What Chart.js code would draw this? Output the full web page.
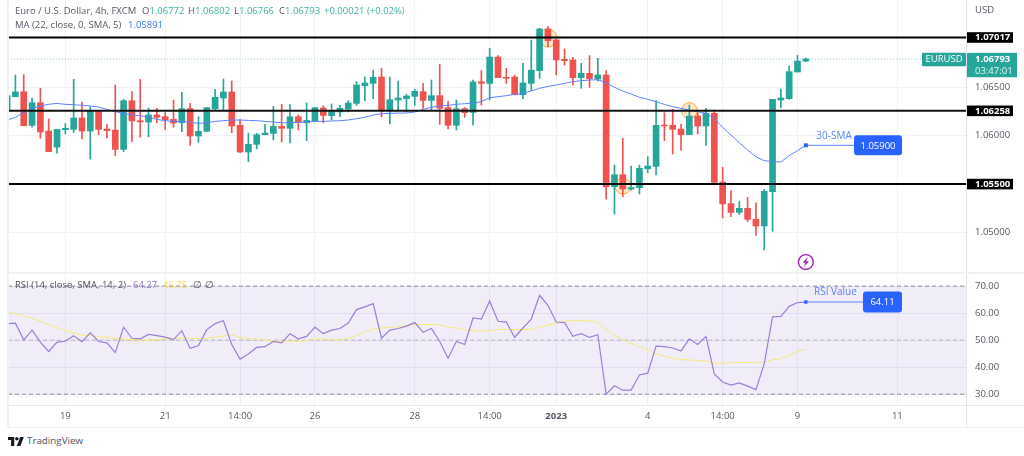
<!DOCTYPE html>
<html><head><meta charset="utf-8">
<script src="https://cdn.jsdelivr.net/npm/chart.js@4"></script>
<style>
html,body{margin:0;padding:0;background:#fff;overflow:hidden}
body{width:1024px;height:456px;position:relative;font-family:"Open Sans",sans-serif}
canvas{position:absolute;left:0}
.t{position:absolute;white-space:pre;font-size:9.5px;line-height:12px;color:#555863;z-index:5}
.r{position:absolute;z-index:4}
</style></head><body>
<canvas id="main" width="1024" height="272" style="top:0"></canvas>
<canvas id="osc" width="1024" height="156" style="top:272px"></canvas>

<div class="r" style="left:7px;top:0;width:1.5px;height:428px;background:#f0f2f8"></div>
<div class="r" style="left:966px;top:0;width:1px;height:428px;background:#e0e3eb"></div>
<div class="r" style="left:7px;top:271.5px;width:1017px;height:2px;background:#f0f2f8"></div>
<div class="r" style="left:8px;top:405px;width:1016px;height:1px;background:#e6e8ef"></div>
<div class="r" style="left:7px;top:426.5px;width:1017px;height:1.5px;background:#f0f2f8"></div>

<div class="t" style="left:15px;top:5px">Euro / U.S. Dollar, 4h, FXCM</div>
<div class="t" style="left:142px;top:5px">O<span style="color:#40b0a5">1.06772</span></div>
<div class="t" style="left:188px;top:5px">H<span style="color:#40b0a5">1.06802</span></div>
<div class="t" style="left:234px;top:5px">L<span style="color:#40b0a5">1.06766</span></div>
<div class="t" style="left:279px;top:5px">C<span style="color:#40b0a5">1.06793</span></div>
<div class="t" style="left:324px;top:5px;color:#40b0a5">+0.00021 (+0.02%)</div>
<div class="t" style="left:15px;top:19px">MA (22, close, 0, SMA, 5)</div>
<div class="t" style="left:128px;top:19px;color:#3f6fff">1.05891</div>
<div class="t" style="left:975px;top:4px">USD</div>
<div class="t" style="left:15px;top:279px">RSI (14, close, SMA, 14, 2)</div>
<div class="t" style="left:133px;top:279px;color:#9075cc">64.27</div>
<div class="t" style="left:163px;top:279px;color:#f5d94e">46.75</div>
<div class="t" style="left:193px;top:279px">∅</div>
<div class="t" style="left:205px;top:279px">∅</div>
<svg class="r" style="left:8px;top:436px" width="16" height="10" viewBox="0 0 36 22"><path fill="#131722" d="M14 22H7V9H0V2h14v20zM28 22h-8l7.5-20h8L28 22z"/><circle fill="#131722" cx="20" cy="6" r="4"/></svg>
<div class="t" style="left:27px;top:435px;font-size:9.8px;color:#50535e">TradingView</div>

<script>
// ---- price data (4h candles) ----
const opens=[1.06255,1.06403,1.06455,1.06107,1.06341,1.06048,1.05882,1.06062,1.06065,1.06183,
1.06048,1.06252,1.06069,1.06058,1.05858,1.06362,1.06155,1.06141,1.06214,1.06196,
1.06169,1.06134,1.06279,1.05996,1.06045,1.06279,1.06390,1.06452,1.06107,1.05831,
1.05910,1.06010,1.06024,1.06096,1.06076,1.06196,1.06134,1.06155,1.06286,1.06207,
1.06245,1.06276,1.06334,1.06517,1.06541,1.06607,1.06255,1.06369,1.06383,1.06407,
1.06455,1.06365,1.06414,1.06290,1.06107,1.06279,1.06241,1.06559,1.06541,1.06814,
1.06604,1.06607,1.06424,1.06541,1.06673,1.07104,1.06990,1.06790,1.06783,1.06600,
1.06645,1.06586,1.06628,1.05472,1.05596,1.05448,1.05462,1.05658,1.05682,1.06110,
1.06107,1.06069,1.06010,1.06203,1.06100,1.06231,1.05520,1.05296,1.05206,1.05248,
1.05134,1.05065,1.05420,1.06369,1.06383,1.06659,1.06772];
const highs=[1.06414,1.06628,1.06631,1.06390,1.06490,1.06172,1.06065,1.06127,1.06583,1.06348,
1.06300,1.06252,1.06117,1.06524,1.06376,1.06455,1.06583,1.06286,1.06283,1.06241,
1.06369,1.06448,1.06334,1.06196,1.06293,1.06479,1.06586,1.06566,1.06169,1.06027,
1.06024,1.06117,1.06303,1.06324,1.06321,1.06214,1.06338,1.06290,1.06310,1.06328,
1.06314,1.06362,1.06559,1.06610,1.06679,1.06697,1.06607,1.06566,1.06428,1.06479,
1.06541,1.06576,1.06738,1.06352,1.06369,1.06290,1.06576,1.06673,1.06904,1.06828,
1.06697,1.06628,1.06748,1.06990,1.07111,1.07128,1.06997,1.06897,1.06811,1.06748,
1.06828,1.06800,1.06673,1.05696,1.05972,1.05686,1.05696,1.05782,1.06362,1.06238,
1.06272,1.06121,1.06317,1.06238,1.06283,1.06265,1.05672,1.05431,1.05320,1.05362,
1.05306,1.05444,1.06376,1.06483,1.06721,1.06831,1.06802];
const lows=[1.06255,1.06403,1.06103,1.06089,1.05972,1.05834,1.05820,1.06017,1.06034,1.05965,
1.05758,1.06010,1.05976,1.05793,1.05834,1.05938,1.05983,1.05989,1.06134,1.06065,
1.06086,1.06041,1.05900,1.05931,1.06045,1.06259,1.06259,1.06031,1.05824,1.05731,
1.05862,1.06010,1.05955,1.05934,1.05924,1.06058,1.05948,1.06152,1.06134,1.06162,
1.06196,1.06245,1.06314,1.06362,1.06383,1.06196,1.06121,1.06259,1.06245,1.06314,
1.06283,1.06265,1.06117,1.06069,1.06058,1.06190,1.06110,1.06317,1.06369,1.06600,
1.06541,1.06421,1.06383,1.06466,1.06593,1.06921,1.06628,1.06731,1.06524,1.06490,
1.06500,1.06566,1.05344,1.05189,1.05368,1.05437,1.05396,1.05617,1.05593,1.05948,
1.05810,1.05851,1.06010,1.06017,1.05900,1.05517,1.05148,1.05161,1.05182,1.05110,
1.04968,1.04816,1.05010,1.06290,1.06376,1.06659,1.06766];
const closes=[1.06414,1.06452,1.06103,1.06341,1.06038,1.05834,1.06065,1.06076,1.06183,1.06048,
1.06252,1.06065,1.06052,1.05858,1.06362,1.06152,1.06141,1.06214,1.06190,1.06165,
1.06131,1.06279,1.05996,1.06045,1.06290,1.06397,1.06452,1.06100,1.05831,1.05910,
1.06010,1.06027,1.06096,1.06076,1.06196,1.06134,1.06158,1.06290,1.06210,1.06262,
1.06283,1.06338,1.06524,1.06545,1.06604,1.06262,1.06372,1.06390,1.06410,1.06459,
1.06365,1.06414,1.06283,1.06107,1.06279,1.06238,1.06555,1.06541,1.06814,1.06600,
1.06593,1.06424,1.06545,1.06679,1.07104,1.06983,1.06783,1.06776,1.06600,1.06645,
1.06590,1.06628,1.05472,1.05596,1.05448,1.05462,1.05662,1.05686,1.06107,1.06100,
1.06065,1.06010,1.06203,1.06100,1.06231,1.05517,1.05293,1.05206,1.05248,1.05134,
1.05065,1.05424,1.06376,1.06390,1.06662,1.06772,1.06793];
const maValues=[1.06162,1.06190,1.06238,1.06283,1.06307,1.06324,1.06334,1.06324,1.06321,1.06314,
1.06307,1.06296,1.06272,1.06248,1.06231,1.06214,1.06207,1.06190,1.06169,1.06155,
1.06148,1.06148,1.06141,1.06127,1.06134,1.06148,1.06155,1.06162,1.06162,1.06158,
1.06155,1.06148,1.06141,1.06134,1.06134,1.06138,1.06141,1.06148,1.06148,1.06152,
1.06155,1.06162,1.06176,1.06190,1.06214,1.06227,1.06231,1.06234,1.06234,1.06245,
1.06272,1.06293,1.06307,1.06314,1.06324,1.06331,1.06334,1.06352,1.06393,1.06403,
1.06414,1.06428,1.06438,1.06462,1.06490,1.06510,1.06524,1.06541,1.06559,1.06569,
1.06576,1.06579,1.06548,1.06500,1.06462,1.06431,1.06397,1.06376,1.06352,1.06324,
1.06300,1.06283,1.06265,1.06248,1.06231,1.06179,1.06086,1.06007,1.05927,1.05851,
1.05782,1.05741,1.05731,1.05727,1.05793,1.05845,1.05900];
const rsiValues=[56.1,56.3,50.1,53.7,49.3,45.8,49.3,49.6,51.6,49.4,52.7,49.5,49.0,45.4,54.8,50.7,50.5,52.1,51.7,51.1,
50.2,53.5,47.0,48.0,53.9,56.1,57.2,48.4,43.0,44.9,47.3,47.6,49.5,49.0,52.4,50.5,51.4,54.8,52.4,53.7,54.3,
56.3,61.3,62.3,63.5,50.7,53.7,54.3,55.2,56.5,52.9,54.3,49.5,43.3,49.5,48.4,58.2,57.8,64.5,57.0,56.7,
51.0,54.5,57.8,66.6,62.9,56.7,56.5,51.4,52.4,51.0,52.0,30.0,33.1,31.5,31.5,37.1,37.8,47.8,47.6,47.1,46.0,
50.5,48.4,51.4,37.5,34.5,33.4,34.2,33.0,31.7,41.2,58.6,58.8,62.5,63.9,64.1];
const rsiSma=[60.4,59.8,58.9,58.2,57.0,55.7,54.6,53.5,52.6,51.9,51.7,51.2,51.1,50.6,50.4,50.2,50.1,49.9,50.2,50.5,
50.5,50.9,50.6,50.6,50.6,51.1,51.6,52.0,50.9,50.5,50.4,50.1,49.7,49.6,49.6,49.6,49.9,50.4,50.4,50.1,50.0,
50.7,51.7,53.0,54.1,54.5,54.8,55.0,55.3,55.8,55.8,55.8,55.7,54.8,54.5,53.9,53.5,53.4,53.4,53.9,54.0,
53.9,53.9,54.0,54.8,55.5,56.3,57.0,57.2,57.3,57.0,56.5,53.9,51.7,50.2,48.9,47.6,46.4,45.0,44.0,43.4,42.8,
42.7,42.4,42.3,41.3,41.6,41.6,41.8,41.8,41.6,41.8,42.7,43.2,44.4,45.8,46.6];
// ---- levels, ticks, labels ----
const levels=[1.07017,1.06258,1.055];
const lastPrice=1.06793;
const smaCallout=1.059;
const rsiCallout=64.11;
const priceTicks=[1.05,1.06,1.065];
const rsiTicks=[30,40,50,60,70];
const rsiDashed=[30,50,70];
const timeTickIdx=[7,19,28,37,49,58,66,77,86,95,107];
const timeTickLabels=['19','21','14:00','26','28','14:00','2023','4','14:00','9','11'];
const marks=[[65,1.07011,9],[82,1.06259,8],[74,1.05479,8]];

const FONT='"Open Sans",sans-serif';
const X_MIN=0.108,X_MAX=115.25;
const UP='#26a69a',DOWN='#ef5350';
const TICK='#555863';
const colors=opens.map((o,i)=>closes[i]>=o?UP:DOWN);
const idx=opens.map((_,i)=>i);
const xy=(arr)=>arr.map((v,i)=>({x:i,y:v}));
const hline=(v)=>[{x:X_MIN,y:v},{x:X_MAX,y:v}];
const noPad=(s)=>{s.paddingTop=s.paddingBottom=s.paddingLeft=s.paddingRight=0;};

function roundBox(c,x,y,w,h,r,fill){c.fillStyle=fill;c.beginPath();c.roundRect(x,y,w,h,r);c.fill();}
function label(c,txt,x,y,col,font,align){c.fillStyle=col;c.font=font;c.textAlign=align||'left';c.textBaseline='middle';c.fillText(txt,x,y);}

const xScaleBase=(labelsOn)=>({
  type:'linear',min:X_MIN,max:X_MAX,offset:false,
  grid:{color:'#f0f2f8',drawTicks:false,offset:false},border:{display:false},
  afterBuildTicks(s){s.ticks=timeTickIdx.map(v=>({value:v}));},
  afterFit(s){noPad(s);s.height=labelsOn?22:0;},
  ticks:labelsOn?{display:true,autoSkip:false,maxRotation:0,padding:5,color:TICK,
    font:(c)=>({family:FONT,size:9.5,weight:c.tick&&c.tick.label==='2023'?'bold':'normal'}),
    callback:(v)=>timeTickLabels[timeTickIdx.indexOf(v)]||''}:{display:false}
});

const mainPlugin={id:'mainMarks',
  beforeDatasetsDraw(ch){
    const c=ch.ctx,x=ch.scales.x,y=ch.scales.y;
    c.save();
    for(const [i,v,r] of marks){
      c.beginPath();c.arc(x.getPixelForValue(i),y.getPixelForValue(v),r,0,Math.PI*2);
      c.fillStyle='rgba(255,152,0,.22)';c.fill();c.strokeStyle='rgba(255,152,0,.8)';c.lineWidth=1;c.stroke();
    }
    c.restore();
  },
  afterDraw(ch){
    const c=ch.ctx,x=ch.scales.x,y=ch.scales.y,ax=ch.chartArea.right,f='bold 9.5px '+FONT,f2='9.5px '+FONT;
    c.save();
    for(const v of levels){
      const p=y.getPixelForValue(v);
      c.fillStyle='#000';c.fillRect(ax,p-5.2,47,10.6);
      label(c,v.toFixed(5),ax+9,p+.3,'#fff',f);
    }
    const lp=y.getPixelForValue(lastPrice);
    roundBox(c,ax-44,lp-6.2,44,13.4,1,UP);
    label(c,'EURUSD',ax-22,lp+.4,'#fff',f2,'center');
    c.fillStyle=UP;c.fillRect(ax,lp-6.2,51,24.4);
    label(c,lastPrice.toFixed(5),ax+9,lp+.6,'#fff',f);
    label(c,'03:47:01',ax+9,lp+11.8,'#e6f5f3',f2);
    // 30-SMA callout
    const sp=y.getPixelForValue(smaCallout),sx=x.getPixelForValue(96);
    c.fillStyle='#2962ff';c.fillRect(sx-2,sp-2,4,4);
    label(c,'30-SMA',sx+10.5,sp-9.5,'#5a82ff',"10px "+FONT);
    roundBox(c,854,sp-10,48,20,3,'#2962ff');
    label(c,smaCallout.toFixed(5),878,sp+.5,'#fff',f2,'center');
    // alert icon
    const ix=x.getPixelForValue(96),iy=y.getPixelForValue(1.04692);
    c.beginPath();c.arc(ix,iy,7.4,0,Math.PI*2);c.strokeStyle='#9c27b0';c.lineWidth=1.4;c.stroke();
    c.fillStyle='#9c27b0';c.beginPath();
    c.moveTo(ix+2,iy-5);c.lineTo(ix-3.2,iy+.8);c.lineTo(ix-.4,iy+.8);c.lineTo(ix-2,iy+5);c.lineTo(ix+3.2,iy-.8);c.lineTo(ix+.4,iy-.8);c.closePath();c.fill();
    c.restore();
  }
};

new Chart(document.getElementById('main'),{
  data:{datasets:[
    {type:'line',data:hline(levels[0]),borderColor:'#000',borderWidth:2,pointRadius:0,order:0},
    {type:'line',data:hline(levels[1]),borderColor:'#111',borderWidth:2,pointRadius:0,order:0},
    {type:'line',data:hline(levels[2]),borderColor:'#000',borderWidth:2,pointRadius:0,order:0},
    {type:'line',data:[{x:96,y:smaCallout},{x:101.9,y:smaCallout}],borderColor:'#5d82ff',borderWidth:1,pointRadius:0,order:1},
    {type:'line',data:xy(maValues),borderColor:'#5d82ff',borderWidth:1,pointRadius:0,order:1},
    {type:'bar',data:idx.map(i=>({x:i,y:[opens[i],closes[i]]})),backgroundColor:colors,barThickness:6,grouped:false,borderWidth:0,order:2},
    {type:'bar',data:idx.map(i=>({x:i,y:[lows[i],highs[i]]})),backgroundColor:colors,barThickness:1,grouped:false,borderWidth:0,order:3},
    {type:'line',data:hline(lastPrice),borderColor:'#8fd3cc',borderWidth:1,borderDash:[1,2],pointRadius:0,order:4}
  ]},
  options:{responsive:false,animation:false,events:[],
    layout:{padding:{left:8,right:0,top:0,bottom:0}},
    plugins:{legend:{display:false},tooltip:{enabled:false}},
    scales:{
      x:xScaleBase(false),
      y:{type:'linear',position:'right',min:1.04589,max:1.07404,beginAtZero:false,
        grid:{color:'#f0f2f8',drawTicks:false},border:{display:false},
        afterBuildTicks(s){s.ticks=priceTicks.map(v=>({value:v}));},
        afterFit(s){noPad(s);s.width=58;},
        ticks:{padding:9,color:TICK,font:{family:FONT,size:9.5},callback:(v)=>Number(v).toFixed(5)}}
    }
  },plugins:[mainPlugin]
});

const oscPlugin={id:'oscMarks',
  beforeDatasetsDraw(ch){
    const c=ch.ctx,y=ch.scales.y,a=ch.chartArea,t=y.getPixelForValue(70),b=y.getPixelForValue(30);
    c.save();c.fillStyle='rgba(126,87,194,.11)';c.fillRect(a.left,t,a.right-a.left,b-t);c.restore();
  },
  afterDraw(ch){
    const c=ch.ctx,x=ch.scales.x,y=ch.scales.y,p=y.getPixelForValue(rsiCallout),px=x.getPixelForValue(96);
    c.save();
    c.fillStyle='#2962ff';c.fillRect(px-1.7,p-1.7,3.4,3.4);
    label(c,'RSI Value',814,p-9.5,'#5a82ff','10px '+FONT);
    roundBox(c,863,p-10.5,39,21,3,'#2962ff');
    label(c,rsiCallout.toFixed(2),882.5,p+.5,'#fff','9.5px '+FONT,'center');
    c.restore();
  }
};

new Chart(document.getElementById('osc'),{
  data:{datasets:[
    ...rsiDashed.map(v=>({type:'line',data:hline(v),borderColor:v===50?'#b4b5bf':'#8a8c97',borderWidth:1,borderDash:[4,3],pointRadius:0,order:3})),
    {type:'line',data:[{x:96,y:rsiCallout},{x:103,y:rsiCallout}],borderColor:'#5d82ff',borderWidth:1,pointRadius:0,order:1},
    {type:'line',data:xy(rsiSma),borderColor:'#f8e77a',borderWidth:1,pointRadius:0,order:2},
    {type:'line',data:xy(rsiValues),borderColor:'#9a7fd6',borderWidth:1.2,pointRadius:0,order:1}
  ]},
  options:{responsive:false,animation:false,events:[],
    layout:{padding:{left:8,right:0,top:1,bottom:0}},
    plugins:{legend:{display:false},tooltip:{enabled:false}},
    scales:{
      x:xScaleBase(true),
      y:{type:'linear',position:'right',min:25.64,max:74.84,beginAtZero:false,
        grid:{color:'#eceef4',drawTicks:false},border:{display:false},
        afterBuildTicks(s){s.ticks=rsiTicks.map(v=>({value:v}));},
        afterFit(s){noPad(s);s.width=58;},
        ticks:{padding:9,color:TICK,font:{family:FONT,size:9.5},callback:(v)=>Number(v).toFixed(2)}}
    }
  },plugins:[oscPlugin]
});
</script>
</body></html>
